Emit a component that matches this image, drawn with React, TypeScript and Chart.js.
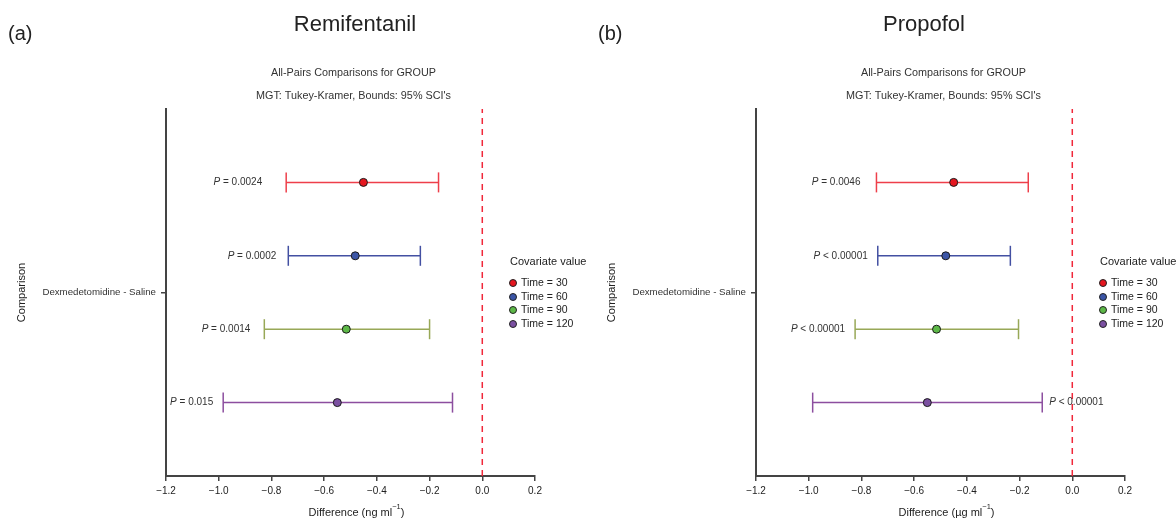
import React, { useEffect, useRef } from "react";
import { Chart, registerables } from "chart.js";
Chart.register(...registerables);

const FONT = '"Liberation Sans", Arial, Helvetica, sans-serif';

// Rows (top to bottom): Time = 30, 60, 90, 120
const rowPos = [3, 2, 1, 0];
const timeLabels = ["Time = 30", "Time = 60", "Time = 90", "Time = 120"];
const dotColors = ["#e5161f", "#3b55a6", "#5db848", "#7b50a1"];
const lineColors = ["#ee3f4a", "#4350a2", "#98a857", "#8c4e9f"];

const categoryLabel = "Dexmedetomidine - Saline";
const xTickValues = [-1.2, -1.0, -0.8, -0.6, -0.4, -0.2, 0.0, 0.2];

// Remifentanil (a)
const remiEstimate = [-0.451, -0.482, -0.516, -0.55];
const remiLower = [-0.744, -0.736, -0.827, -0.983];
const remiUpper = [-0.166, -0.235, -0.2, -0.113];
const remiP = ["= 0.0024", "= 0.0002", "= 0.0014", "= 0.015"];
const remiSide = ["left", "left", "left", "left"];
const remiGap = [24, 12, 14, 10];

// Propofol (b)
const propEstimate = [-0.45, -0.48, -0.515, -0.55];
const propLower = [-0.743, -0.738, -0.824, -0.985];
const propUpper = [-0.167, -0.235, -0.204, -0.114];
const propP = ["= 0.0046", "< 0.00001", "< 0.00001", "< 0.00001"];
const propSide = ["left", "left", "left", "right"];
const propGap = [16, 10, 10, 7];

type Panel = {
  letter: string;
  title: string;
  titleX: number;
  unit: string;
  est: number[];
  lo: number[];
  hi: number[];
  p: string[];
  side: string[];
  gap: number[];
};

const panels: Panel[] = [
  { letter: "(a)", title: "Remifentanil", titleX: 355, unit: "ng ml", est: remiEstimate, lo: remiLower, hi: remiUpper, p: remiP, side: remiSide, gap: remiGap },
  { letter: "(b)", title: "Propofol", titleX: 334, unit: "\u00b5g ml", est: propEstimate, lo: propLower, hi: propUpper, p: propP, side: propSide, gap: propGap },
];

const W = 591;
const H = 519;

function makeTextPlugin(panel: Panel) {
  return {
    id: "panelText",
    afterDraw(chart: any) {
      const ctx = chart.ctx as CanvasRenderingContext2D;
      const xs = chart.scales.x;
      const ys = chart.scales.y;
      const ca = chart.chartArea;
      const cx = (ca.left + ca.right) / 2;
      ctx.save();
      ctx.fillStyle = "#222";
      // panel letter
      ctx.font = `20px ${FONT}`;
      ctx.textAlign = "left";
      ctx.textBaseline = "middle";
      ctx.fillText(panel.letter, 8, 34);
      // title
      ctx.font = `22px ${FONT}`;
      ctx.textAlign = "center";
      ctx.textBaseline = "alphabetic";
      ctx.fillText(panel.title, panel.titleX, 31);
      // subtitles
      ctx.fillStyle = "#333";
      ctx.font = `10.8px ${FONT}`;
      ctx.textBaseline = "middle";
      ctx.fillText("All-Pairs Comparisons for GROUP", cx + 3, 73);
      ctx.fillText("MGT: Tukey-Kramer, Bounds: 95% SCI's", cx + 3, 96);
      // y title
      ctx.save();
      ctx.translate(22, (ca.top + ca.bottom) / 2);
      ctx.rotate(-Math.PI / 2);
      ctx.font = `11px ${FONT}`;
      ctx.fillStyle = "#222";
      ctx.textAlign = "center";
      ctx.fillText("Comparison", 0, 0);
      ctx.restore();
      // x title with superscript
      ctx.fillStyle = "#222";
      ctx.font = `11px ${FONT}`;
      const t1 = `Difference (${panel.unit}`;
      const w1 = ctx.measureText(t1).width;
      const w3 = ctx.measureText(")").width;
      ctx.font = `7.5px ${FONT}`;
      const w2 = ctx.measureText("\u22121").width;
      const total = w1 + w2 + w3;
      const x0 = cx + 6 - total / 2;
      const ty = 513;
      ctx.textAlign = "left";
      ctx.font = `11px ${FONT}`;
      ctx.fillText(t1, x0, ty);
      ctx.font = `7.5px ${FONT}`;
      ctx.fillText("\u22121", x0 + w1, ty - 6);
      ctx.font = `11px ${FONT}`;
      ctx.fillText(")", x0 + w1 + w2, ty);
      // P labels
      for (let i = 0; i < rowPos.length; i++) {
        const y = ys.getPixelForValue(rowPos[i]);
        ctx.font = `italic 10px ${FONT}`;
        const wp = ctx.measureText("P").width;
        ctx.font = `10px ${FONT}`;
        const rest = " " + panel.p[i];
        const wr = ctx.measureText(rest).width;
        let sx: number;
        if (panel.side[i] === "left") {
          sx = xs.getPixelForValue(panel.lo[i]) - panel.gap[i] - wp - wr;
        } else {
          sx = xs.getPixelForValue(panel.hi[i]) + panel.gap[i];
        }
        ctx.fillStyle = "#333";
        ctx.font = `italic 10px ${FONT}`;
        ctx.fillText("P", sx, y);
        ctx.font = `10px ${FONT}`;
        ctx.fillText(rest, sx + wp, y);
      }
      // legend
      ctx.fillStyle = "#222";
      ctx.font = `11px ${FONT}`;
      ctx.fillText("Covariate value", 510, 262);
      const legY = [283, 297, 310, 324];
      for (let i = 0; i < timeLabels.length; i++) {
        ctx.beginPath();
        ctx.arc(513, legY[i], 3.5, 0, Math.PI * 2);
        ctx.fillStyle = dotColors[i];
        ctx.fill();
        ctx.lineWidth = 1;
        ctx.strokeStyle = "#222";
        ctx.stroke();
        ctx.fillStyle = "#222";
        ctx.font = `10.5px ${FONT}`;
        ctx.fillText(timeLabels[i], 521, legY[i]);
      }
      ctx.restore();
    },
  };
}

function PanelChart({ panel, left }: { panel: Panel; left: number }) {
  const ref = useRef<HTMLCanvasElement | null>(null);
  useEffect(() => {
    if (!ref.current) return;
    const datasets: any[] = [];
    for (let i = 0; i < rowPos.length; i++) {
      datasets.push({
        type: "scatter",
        data: [{ x: panel.est[i], y: rowPos[i] }],
        pointRadius: 4,
        pointBackgroundColor: dotColors[i],
        pointBorderColor: "#1a1a1a",
        pointBorderWidth: 1,
        order: 0,
      });
    }
    for (let i = 0; i < rowPos.length; i++) {
      datasets.push({
        type: "scatter",
        showLine: true,
        data: [
          { x: panel.lo[i], y: rowPos[i] },
          { x: panel.hi[i], y: rowPos[i] },
        ],
        borderColor: lineColors[i],
        borderWidth: 1.5,
        pointStyle: "line",
        rotation: 90,
        pointRadius: 10,
        pointBorderColor: lineColors[i],
        pointBorderWidth: 1.5,
        order: 1,
      });
    }
    datasets.push({
      type: "scatter",
      showLine: true,
      data: [
        { x: 0, y: -1 },
        { x: 0, y: 4 },
      ],
      borderColor: "#f0283a",
      borderWidth: 1.5,
      borderDash: [6, 5],
      pointRadius: 0,
      order: 2,
    });

    Chart.defaults.font.family = FONT;
    const chart = new Chart(ref.current, {
      type: "scatter",
      data: { datasets },
      plugins: [makeTextPlugin(panel)],
      options: {
        responsive: false,
        animation: false,
        devicePixelRatio: 1,
        layout: { padding: { top: 109, right: 56, bottom: 0, left: 0 } },
        plugins: { legend: { display: false }, tooltip: { enabled: false }, title: { display: false } },
        scales: {
          x: {
            type: "linear",
            min: -1.2,
            max: 0.2,
            afterBuildTicks: (s: any) => {
              s.ticks = xTickValues.map((v) => ({ value: v }));
            },
            afterFit: (s: any) => {
              s.height = 43;
            },
            grid: { display: true, drawOnChartArea: false, drawTicks: true, tickLength: 5, color: "#444", lineWidth: 1.5 },
            border: { display: true, color: "#444", width: 2 },
            ticks: {
              padding: 4,
              color: "#222",
              font: { size: 10, family: FONT },
              maxRotation: 0,
              autoSkip: false,
              callback: (v: any) => Number(v).toFixed(1).replace("-", "\u2212"),
            },
          },
          y: {
            type: "linear",
            min: -1,
            max: 4,
            afterBuildTicks: (s: any) => {
              s.ticks = [{ value: 1.5 }];
            },
            afterFit: (s: any) => {
              s.width = 166;
            },
            grid: { display: true, drawOnChartArea: false, drawTicks: true, tickLength: 5, color: "#444", lineWidth: 1.5 },
            border: { display: true, color: "#444", width: 2 },
            ticks: {
              padding: 5,
              color: "#333",
              font: { size: 9.7, family: FONT },
              autoSkip: false,
              callback: () => categoryLabel,
            },
          },
        },
      } as any,
    });
    return () => chart.destroy();
  }, [panel]);
  return (
    <canvas
      ref={ref}
      width={W}
      height={H}
      style={{ position: "absolute", left, top: 0, width: W, height: H }}
    />
  );
}

export default function App() {
  return (
    <div
      style={{
        position: "fixed",
        left: 0,
        top: 0,
        width: 1176,
        height: 519,
        overflow: "hidden",
        background: "#fff",
      }}
    >
      <PanelChart panel={panels[0]} left={0} />
      <PanelChart panel={panels[1]} left={590} />
    </div>
  );
}
